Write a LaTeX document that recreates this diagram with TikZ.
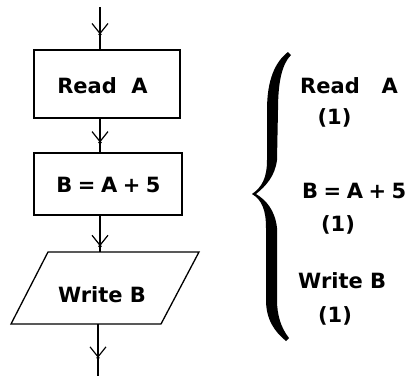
\documentclass[tikz,border=0pt]{standalone}
\usepackage{fontspec}
\setmainfont{DejaVu Sans}
\usetikzlibrary{arrows.meta,decorations.markings}

\newcommand{\gap}{\hspace{5.5pt}}

\tikzset{
  box/.style={draw, line width=1.6pt, inner sep=0pt},
  lbl/.style={font=\fontsize{21}{25}\selectfont\bfseries, inner sep=0pt},
  flow/.style={line width=1.4pt, postaction={decorate},
    decoration={markings, mark=at position #1 with
      {\arrow{Straight Barb[length=10pt,width=16pt,line width=1.2pt]}\fill (0,0) circle (1.8pt);}}},
  brace/.style={fill=black},
}

\begin{document}
\begin{tikzpicture}[x=1pt,y=-1pt]
  \useasboundingbox (0,0) rectangle (410,376);

  % flowchart
  \coordinate (in) at (100,7);
  \node[box, minimum width=146pt, minimum height=68pt] (rd) at (107,84) {};
  \node[lbl] (rdt) at (102.5,85.5) {Read\ \ A};
  \node[box, minimum width=148pt, minimum height=62pt] (ad) at (108,184) {};
  \node[lbl] (adt) at (108.5,185) {B\gap=\gap A\gap+\gap 5};

  % output parallelogram
  \coordinate (wrTL) at (48,252);
  \coordinate (wrTR) at (199,252);
  \coordinate (wrBR) at (161,324);
  \coordinate (wrBL) at (11,324);
  \draw[line width=1.3pt] (wrTL) -- (wrTR) -- (wrBR) -- (wrBL) -- cycle;
  \node[lbl] (wrt) at (102,295) {Write B};
  \coordinate (wrN) at (100,252);
  \coordinate (wrS) at (98,324);
  \coordinate (out) at (98,376);

  % connectors
  \draw[flow=0.65] (in) -- (rd.north -| in);
  \draw[flow=0.71] (rd.south -| in) -- (ad.north -| in);
  \draw[flow=0.84] (ad.south -| in) -- (wrN);
  \draw[flow=0.65] (wrS) -- (out);

  % curly brace
  \fill[brace] (288,52) .. controls (275,62) and (267,80) .. (267,110)
    -- (267,160) .. controls (267,178) and (262,187) .. (252,194)
    -- (256,194) .. controls (266,186) and (275,176) .. (277,160)
    -- (278,110) .. controls (278,82) and (282,64) .. (291,55) -- cycle;
  \fill[brace] (252,194) .. controls (262,200) and (266,210) .. (266,228)
    -- (266,300) .. controls (266,320) and (275,332) .. (286,341)
    -- (289,338) .. controls (281,328) and (277,315) .. (277,300)
    -- (277,228) .. controls (275,210) and (266,200) .. (256,194) -- cycle;

  % statement counts
  \node[lbl, anchor=west] (r1) at (300,85.5) {Read\ \ \ A};
  \node[lbl] (r1n) at (334.5,118) {(1)};
  \node[lbl, anchor=west] (r2) at (302,191) {B\gap=\gap A\gap+\gap 5};
  \node[lbl] (r2n) at (338,225) {(1)};
  \node[lbl, anchor=west] (r3) at (298,281) {Write B};
  \node[lbl] (r3n) at (335,315.5) {(1)};
\end{tikzpicture}
\end{document}
